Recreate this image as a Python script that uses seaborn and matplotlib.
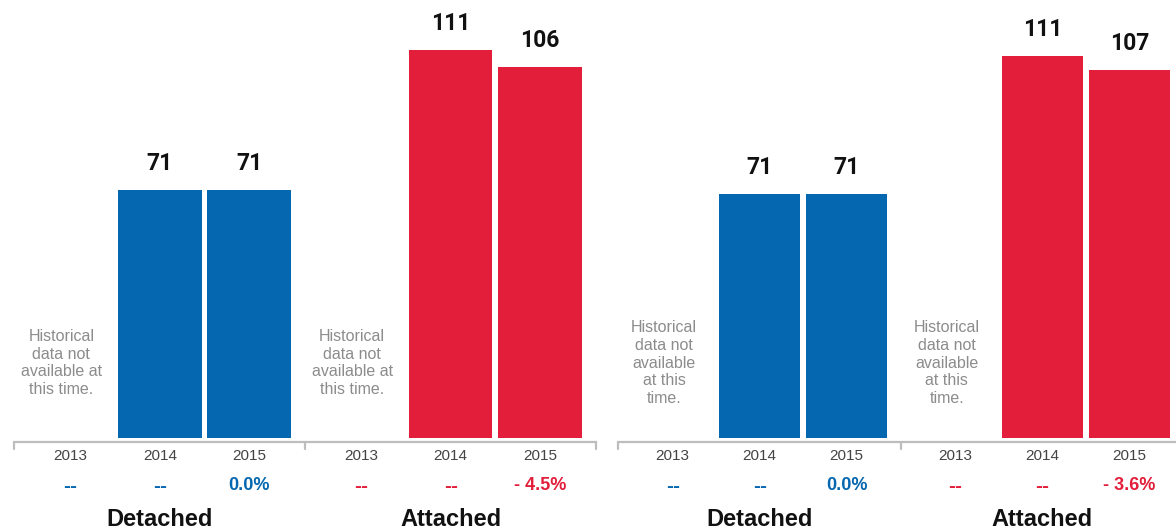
import matplotlib
matplotlib.use("Agg")
import matplotlib.pyplot as plt
import matplotlib.transforms as mtransforms
from matplotlib.lines import Line2D
import seaborn as sns
import pandas as pd
import numpy as np

# ---------------- data ----------------
groups = ["Detached", "Attached"]
years = ["2013", "2014", "2015"]

left_detached = [np.nan, 71, 71]
left_attached = [np.nan, 111, 106]
right_detached = [np.nan, 71, 71]
right_attached = [np.nan, 111, 107]

left_change_detached = ["--", "--", "0.0%"]
left_change_attached = ["--", "--", "- 4.5%"]
right_change_detached = ["--", "--", "0.0%"]
right_change_attached = ["--", "--", "- 3.6%"]

left_note = "Historical\ndata not\navailable at\nthis time."
right_note = "Historical\ndata not\navailable\nat this\ntime."

# ---------------- style ----------------
sns.set_theme(style="white")
plt.rcParams["font.family"] = ["Liberation Sans", "DejaVu Sans"]

BLUE = "#0567AF"
RED = "#E21E3A"
colors = {"Detached": BLUE, "Attached": RED}

W, H = 1176, 532
fig = plt.figure(figsize=(W / 100, H / 100), dpi=100)

GROUP_OFFSET = 3.25
XMIN, XMAX = -1.64, 4.88
MIDTICK = 1.62


def fy(px):
    return 1 - px / H


panels = [
    dict(x0=13, pitch=89.5, scale=3.5,
         vals=[left_detached, left_attached],
         chg=[left_change_detached, left_change_attached], note=left_note),
    dict(x0=617, pitch=87.0, scale=3.44,
         vals=[right_detached, right_attached],
         chg=[right_change_detached, right_change_attached], note=right_note),
]

BASE = 438  # pixel row of the bar baseline

for p in panels:
    width_px = (XMAX - XMIN) * p["pitch"]
    ax = fig.add_axes([p["x0"] / W, fy(BASE), width_px / W, BASE / H])

    rows = []
    for gi, g in enumerate(groups):
        for yi, y in enumerate(years):
            rows.append(dict(group=g, year=y, pos=gi * GROUP_OFFSET + (yi - 1),
                             value=p["vals"][gi][yi], change=p["chg"][gi][yi]))
    df = pd.DataFrame(rows)
    bars = df.dropna(subset=["value"])

    sns.barplot(data=bars, x="pos", y="value", hue="group", palette=colors,
                native_scale=True, dodge=False, width=0.935, saturation=1,
                errorbar=None, legend=False, linewidth=0, ax=ax)

    ax.set_xlim(XMIN, XMAX)
    ax.set_ylim(0, BASE / p["scale"])
    ax.axis("off")

    # value labels
    for _, r in bars.iterrows():
        ax.annotate(f"{int(r['value'])}", (r["pos"], r["value"]),
                    xytext=(0, 14.4), textcoords="offset points",
                    ha="center", va="baseline", fontsize=16.5,
                    fontweight="bold", color="#111111",
                    family=["Roboto", "Liberation Sans"])

    tr = mtransforms.blended_transform_factory(ax.transData, fig.transFigure)

    # baseline axis with end/middle ticks
    ax.add_line(Line2D([XMIN, XMAX], [fy(441.5), fy(441.5)], transform=tr,
                       color="#BDBDBD", lw=1.6, clip_on=False,
                       solid_capstyle="butt"))
    for xt in [XMIN + 0.01, MIDTICK, XMAX - 0.01]:
        ax.add_line(Line2D([xt, xt], [fy(441.5), fy(449)], transform=tr,
                           color="#BDBDBD", lw=1.6, clip_on=False))

    for _, r in df.iterrows():
        col = colors[r["group"]]
        ax.text(r["pos"], fy(460), r["year"], transform=tr, ha="center",
                va="baseline", fontsize=11, color="#444444")
        is_dash = r["change"] == "--"
        ax.text(r["pos"], fy(490 if not is_dash else 492), r["change"],
                transform=tr, ha="center", va="baseline",
                fontsize=15 if is_dash else 13, fontweight="bold", color=col)

    for gi, g in enumerate(groups):
        ax.text(gi * GROUP_OFFSET, fy(526), g, transform=tr, ha="center",
                va="baseline", fontsize=17, fontweight="bold", color="#111111")
        ax.text(gi * GROUP_OFFSET - 1.1, fy(363), p["note"], transform=tr,
                ha="center", va="center", fontsize=11.5, color="#8C8C8C",
                linespacing=1.22)

fig.savefig("out.png", dpi=100)
